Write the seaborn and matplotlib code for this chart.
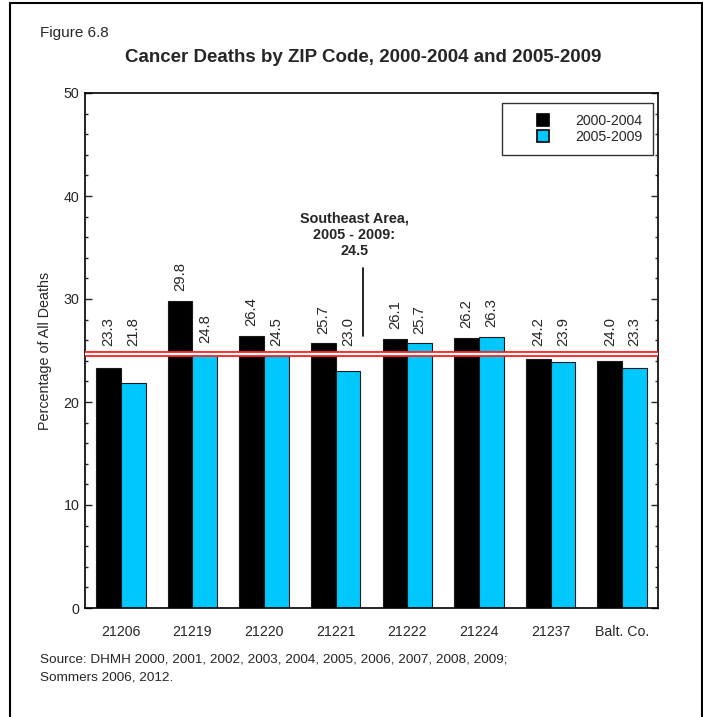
import matplotlib
matplotlib.use("Agg")
import matplotlib.pyplot as plt
import seaborn as sns
import pandas as pd
from matplotlib.patches import Rectangle
from matplotlib.lines import Line2D
from matplotlib.ticker import MultipleLocator

categories = ["21206", "21219", "21220", "21221", "21222", "21224", "21237", "Balt. Co."]
series_names = ["2000-2004", "2005-2009"]
values_2000_2004 = [23.3, 29.8, 26.4, 25.7, 26.1, 26.2, 24.2, 24.0]
values_2005_2009 = [21.8, 24.8, 24.5, 23.0, 25.7, 26.3, 23.9, 23.3]
southeast_avg = 24.5

df = pd.DataFrame({
    "zip": categories * 2,
    "period": [series_names[0]] * len(categories) + [series_names[1]] * len(categories),
    "pct": values_2000_2004 + values_2005_2009,
})

sns.set_style("ticks")
plt.rcParams["font.family"] = ["Liberation Sans", "DejaVu Sans"]

fig = plt.figure(figsize=(7.03, 7.17), dpi=100)
ax = fig.add_axes([85/703, 1 - 608/717, 573/703, 515/717])

palette = {series_names[0]: "#000000", series_names[1]: "#00C8FF"}
sns.barplot(data=df, x="zip", y="pct", hue="period", order=categories,
            hue_order=series_names, palette=palette, width=0.69,
            edgecolor="#1a1a1a", linewidth=0.8, saturation=1, ax=ax, legend=False)

ax.set_ylim(0, 50)
ax.set_xlim(-0.5, len(categories) - 0.5)
ax.yaxis.set_major_locator(MultipleLocator(10))
ax.yaxis.set_minor_locator(MultipleLocator(2))
ax.tick_params(axis="y", which="major", direction="in", length=5, width=1, right=True,
               labelsize=10.3, pad=4)
ax.tick_params(axis="y", which="minor", direction="in", length=2, width=1, right=True)
ax.tick_params(axis="x", length=0, labelsize=10.2, pad=12)
for s in ax.spines.values():
    s.set_linewidth(1.2)
    s.set_color("black")
ax.set_xlabel("")
ax.set_ylabel("Percentage of All Deaths", fontsize=10.3, labelpad=8)

# value labels
for cont, vals in zip(ax.containers, [values_2000_2004, values_2005_2009]):
    for bar, v in zip(cont, vals):
        xc = bar.get_x() + bar.get_width() / 2
        ax.text(xc, max(v, southeast_avg) + 0.95, f"{v:.1f}", rotation=90, ha="center",
                va="bottom", fontsize=10.7)

# southeast area reference line (double red)
ax.axhline(southeast_avg + 0.15, color="#ff2020", lw=4.2, zorder=5)
ax.axhline(southeast_avg + 0.15, color="white", lw=1.6, zorder=6)

ax.plot([3.38, 3.38], [26.4, 33.0], color="black", lw=1.2)
ax.text(3.26, 34.0, "Southeast Area,\n2005 - 2009:\n24.5", ha="center", va="bottom",
        fontsize=10.4, fontweight="bold", linespacing=1.2)

# legend
handles = [Line2D([], [], marker="s", linestyle="None", markersize=8,
                  markerfacecolor=palette[s], markeredgecolor="black", markeredgewidth=1.2)
           for s in series_names]
leg = ax.legend(handles, series_names, loc="upper right", bbox_to_anchor=(0.9913, 0.9806),
                frameon=True, fancybox=False, fontsize=10.2, handlelength=4.28,
                handletextpad=0.1, borderpad=0.75, labelspacing=0.2, borderaxespad=0)
leg.get_frame().set_edgecolor("black")
leg.get_frame().set_linewidth(1.0)

# figure texts
fig.text(40/703, 1 - 33/717, "Figure 6.8", fontsize=11, va="center", ha="left")
fig.text(363/703, 1 - 58/717, "Cancer Deaths by ZIP Code, 2000-2004 and 2005-2009",
         fontsize=13.5, fontweight="bold", ha="center", va="center")
fig.text(40/703, 1 - 660/717, "Source: DHMH 2000, 2001, 2002, 2003, 2004, 2005, 2006, 2007, 2008, 2009;",
         fontsize=9.7, ha="left", va="center")
fig.text(40/703, 1 - 677/717, "Sommers 2006, 2012.", fontsize=9.7, ha="left", va="center")

# outer border
fig.patches.append(Rectangle((10/703, -0.05), 692/703 - 0.0005, 1 - 3/717 + 0.05,
                             transform=fig.transFigure, fill=False,
                             edgecolor="black", linewidth=1.5))

fig.savefig("out.png", dpi=100)
